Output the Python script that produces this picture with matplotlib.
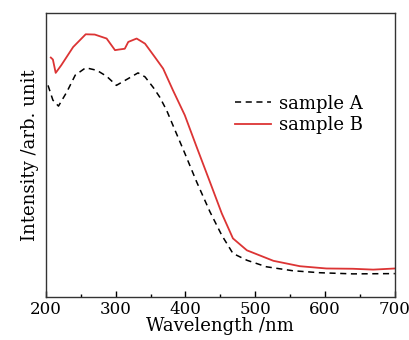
import matplotlib
matplotlib.use('Agg')
import matplotlib.pyplot as plt
from matplotlib.ticker import MultipleLocator

# wavelength (nm) and intensity (arb. unit)
wl_a = [203, 210, 218, 230, 242, 257, 273, 287, 301, 318, 332, 342, 354, 363, 373,
        385, 399, 416, 435, 452, 468, 488, 516, 554, 593, 640, 700]
int_a = [0.746, 0.694, 0.673, 0.723, 0.782, 0.808, 0.799, 0.778, 0.746, 0.770, 0.790,
         0.776, 0.738, 0.705, 0.658, 0.588, 0.507, 0.406, 0.301, 0.218, 0.154, 0.130,
         0.107, 0.093, 0.086, 0.082, 0.083]

wl_b = [207, 210, 214, 222, 239, 257, 270, 287, 299, 304, 313, 318, 330, 342, 356,
        368, 382, 399, 416, 435, 452, 468, 488, 526, 564, 602, 640, 669, 700]
int_b = [0.844, 0.837, 0.790, 0.817, 0.881, 0.926, 0.925, 0.911, 0.870, 0.872, 0.875,
         0.899, 0.911, 0.893, 0.846, 0.805, 0.729, 0.641, 0.529, 0.406, 0.295, 0.207,
         0.165, 0.128, 0.109, 0.101, 0.100, 0.097, 0.101]

plt.rcParams['font.family'] = ['DejaVu Serif']

fig = plt.figure(figsize=(4.1, 3.4), dpi=100)
ax = fig.add_axes([0.112, 0.126, 0.851, 0.835])

ax.plot(wl_a, int_a, color='black', linestyle=(0, (4, 3)), linewidth=1.1, label='sample A')
ax.plot(wl_b, int_b, color='#dc3434', linestyle='-', linewidth=1.3, label='sample B')

ax.set_xlim(200, 700)
ax.set_ylim(0, 1)
ax.xaxis.set_major_locator(MultipleLocator(100))
ax.xaxis.set_minor_locator(MultipleLocator(50))
ax.tick_params(axis='x', which='major', direction='in', length=4, width=1, labelsize=12, pad=3)
ax.tick_params(axis='x', which='minor', direction='in', length=2.5, width=1)
ax.set_yticks([])
for s in ax.spines.values():
    s.set_linewidth(1)
    s.set_color('#333333')

ax.set_xlabel('Wavelength /nm', fontsize=13, labelpad=-1)
ax.set_ylabel('Intensity /arb. unit', fontsize=13, labelpad=5)

ax.legend(loc='upper left', bbox_to_anchor=(0.517, 0.745), frameon=False, fontsize=13,
          handlelength=2.0, handletextpad=0.4, labelspacing=0.2, borderpad=0)

fig.savefig('out.png', dpi=100)
